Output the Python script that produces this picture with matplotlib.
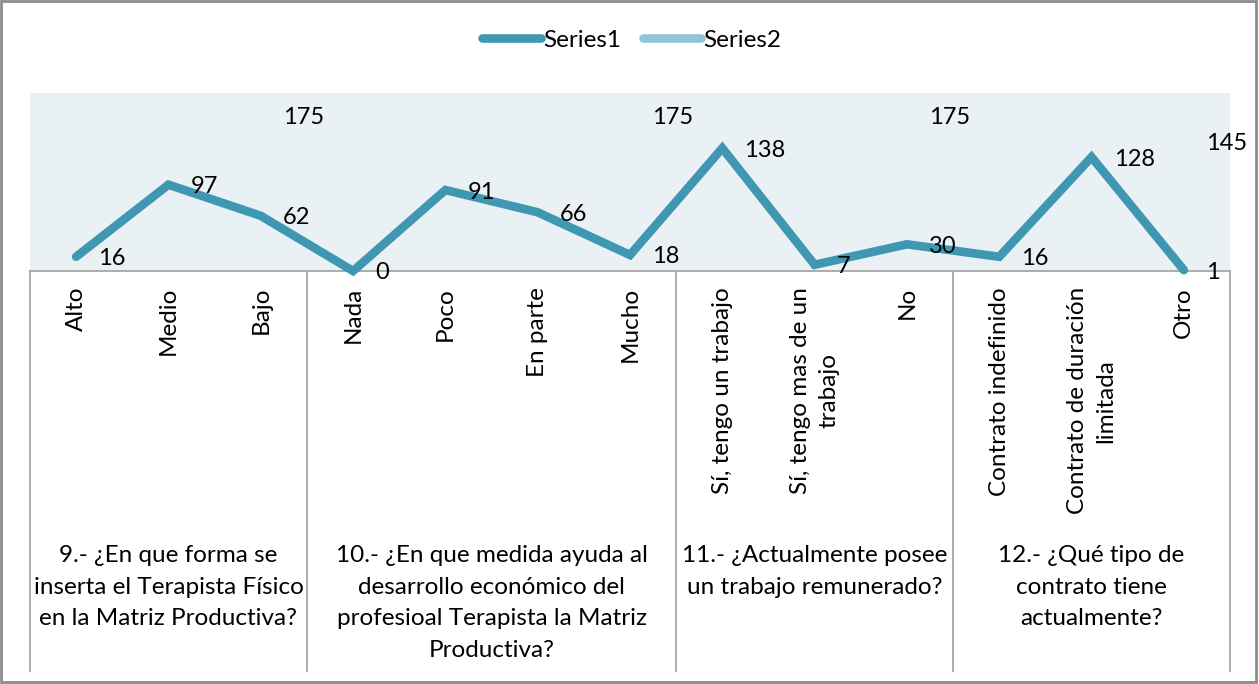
import numpy as np
import matplotlib.pyplot as plt
from matplotlib.lines import Line2D
from matplotlib.patches import Rectangle
from matplotlib import transforms

plt.rcParams['font.family'] = ['Lato', 'DejaVu Sans']

categories = ["Alto", "Medio", "Bajo",
              "Nada", "Poco", "En parte", "Mucho",
              "Sí, tengo un trabajo", "Sí, tengo mas de un\ntrabajo", "No",
              "Contrato indefinido", "Contrato de duración\nlimitada", "Otro"]
groups = ["9.- ¿En que forma se\ninserta el Terapista Físico\nen la Matriz Productiva?",
          "10.- ¿En que medida ayuda al\ndesarrollo económico del\nprofesioal Terapista la Matriz\nProductiva?",
          "11.- ¿Actualmente posee\nun trabajo remunerado?",
          "12.- ¿Qué tipo de\ncontrato tiene\nactualmente?"]
group_sizes = [3, 4, 3, 3]
series1 = [16, 97, 62, 0, 91, 66, 18, 138, 7, 30, 16, 128, 1]
series2 = [np.nan, np.nan, 175, np.nan, np.nan, np.nan, 175,
           np.nan, np.nan, 175, np.nan, np.nan, 145]

c1 = '#3F97B1'
c2 = '#92C4D7'
grid_c = '#A6A6A6'

W, H = 1259, 684
fig = plt.figure(figsize=(W / 100, H / 100), dpi=100)
ax = fig.add_axes([30 / W, 1 - 271 / H, 1200 / W, 178 / H])
ax.set_facecolor('#E9F1F5')

x = np.arange(len(categories))
ax.plot(x, series1, color=c1, lw=6.2, solid_capstyle='round',
        solid_joinstyle='miter', clip_on=False, zorder=3)
ax.plot(x, series2, color=c2, lw=6.2, solid_capstyle='round', clip_on=False)

for xs, vals in ((x, series1), (x, series2)):
    for xi, v in zip(xs, vals):
        if np.isnan(v):
            continue
        ax.annotate(f"{int(v)}", (xi, v), xytext=(22, -2), textcoords='offset pixels',
                    ha='left', va='center', fontsize=17, color='black',
                    annotation_clip=False, zorder=4)

ax.set_xlim(-0.5, len(categories) - 0.5)
ax.set_ylim(0, 200)
ax.set_xticks([])
ax.set_yticks([])
for s in ['top', 'left', 'right']:
    ax.spines[s].set_visible(False)
ax.spines['bottom'].set_color(grid_c)
ax.spines['bottom'].set_linewidth(1.3)

tr = transforms.blended_transform_factory(ax.transData, fig.transFigure)

# group separators
bounds = np.concatenate([[0], np.cumsum(group_sizes)]) - 0.5
for b in bounds:
    fig.add_artist(Line2D([b, b], [1 - 271 / H, 1 - 671 / H], transform=tr,
                          color=grid_c, lw=1.3))

# category labels
for xi, lab in zip(x, categories):
    ax.text(xi, 1 - 287 / H, lab, transform=tr, rotation=90, ha='center', va='top',
            multialignment='center', fontsize=17.5, linespacing=1.45)

# group labels
for i, g in enumerate(groups):
    cx = (bounds[i] + bounds[i + 1]) / 2
    ax.text(cx, 1 - 545 / H, g, transform=tr, ha='center', va='top',
            multialignment='center', fontsize=17.5, linespacing=1.63)

handles = [Line2D([], [], color=c1, lw=6.2, solid_capstyle='round'),
           Line2D([], [], color=c2, lw=6.2, solid_capstyle='round')]
fig.legend(handles, ['Series1', 'Series2'], loc='center', ncol=2,
           bbox_to_anchor=(632 / W, 1 - 40 / H), frameon=False, fontsize=17.5,
           handlelength=2.4, handletextpad=0.1, columnspacing=0.9)

fig.add_artist(Rectangle((0.001, 0.003), 0.997, 0.995, transform=fig.transFigure,
                         fill=False, edgecolor='#8C8C8C', lw=2))

fig.savefig('out.png', dpi=100)
